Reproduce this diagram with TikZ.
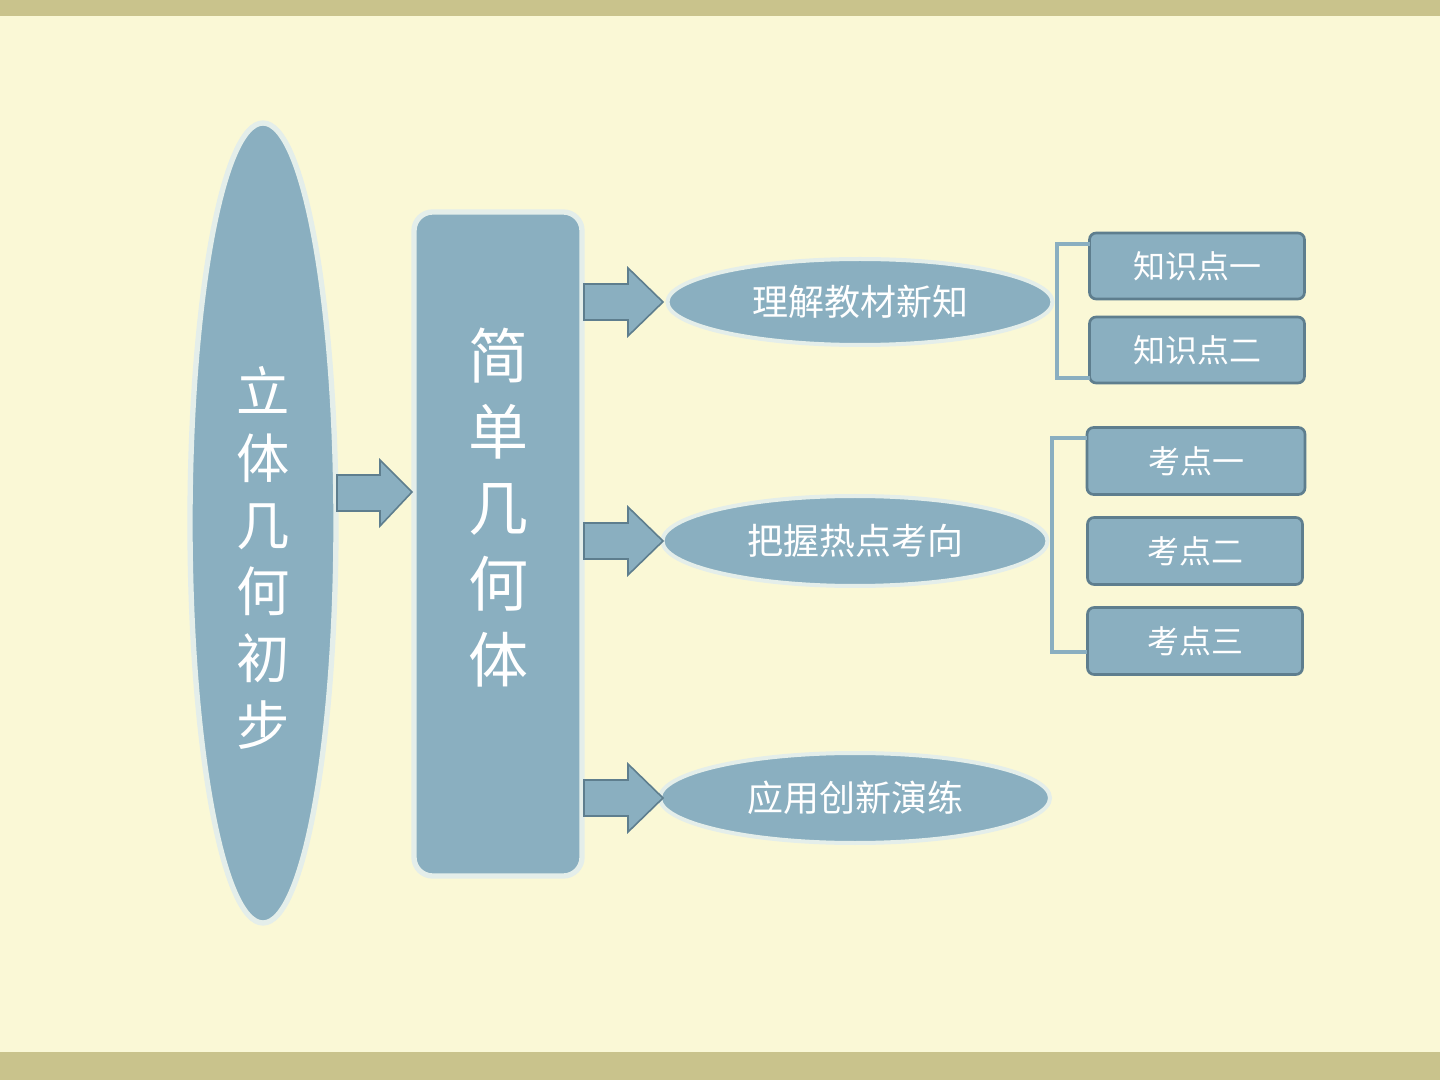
\documentclass[tikz,border=0pt]{standalone}
\usepackage{fontspec}
\setmainfont{Noto Sans CJK SC}
\usetikzlibrary{shapes.geometric}
\definecolor{bg}{HTML}{FAF8D6}
\definecolor{bar}{HTML}{C9C38C}
\definecolor{fillb}{HTML}{8AAFC0}
\definecolor{edge}{HTML}{5E7E8E}
\definecolor{glow}{HTML}{E4EEEA}
\begin{document}
\begin{tikzpicture}[x=0.75pt,y=-0.75pt,
  big/.style={ellipse,fill=fillb,draw=glow,line width=4pt,inner sep=0pt,text=white},
  mid/.style={ellipse,fill=fillb,draw=glow,line width=3pt,inner sep=0pt,text=white,font=\fontsize{27}{30}\selectfont},
  small/.style={rectangle,rounded corners=5pt,fill=fillb,draw=edge,line width=2pt,text=white,font=\fontsize{24}{28}\selectfont,inner sep=0pt},
  blk/.style={fill=fillb,draw=edge,line width=1.2pt},
  brk/.style={draw=fillb,line width=3pt}]
\fill[bg] (0,0) rectangle (1440,1080);
\fill[bar] (0,0) rectangle (1440,16);
\fill[bar] (0,1052) rectangle (1440,1080);
\node[big,minimum width=146*0.75pt,minimum height=800*0.75pt] (L) at (263,523) {};
\node[text=white,align=center,font=\fontsize{40}{50}\selectfont] (Lt) at (263,558) {立\\体\\几\\何\\初\\步};
\node[rectangle,rounded corners=14pt,fill=fillb,draw=glow,line width=4pt,minimum width=168*0.75pt,minimum height=664*0.75pt,inner sep=0pt] (M) at (498,544) {};
\node[text=white,align=center,font=\fontsize{45}{57}\selectfont] (Mt) at (498,508) {简\\单\\几\\何\\体};
\node[mid,minimum width=385*0.75pt,minimum height=86*0.75pt] (E1) at (860,302) {理解教材新知};
\node[mid,minimum width=385*0.75pt,minimum height=90*0.75pt] (E2) at (855,541) {把握热点考向};
\node[mid,minimum width=390*0.75pt,minimum height=90*0.75pt] (E3) at (855,798) {应用创新演练};
% arrows
\draw[blk] (337,475)--(380,475)--(380,460)--(412,492)--(380,526)--(380,511)--(337,511)--cycle;
\foreach \y in {302,541,798}{
\draw[blk] (584,\y-18)--(628,\y-18)--(628,\y-34)--(663,\y)--(628,\y+34)--(628,\y+18)--(584,\y+18)--cycle;}
\node[small,minimum width=215*0.75pt,minimum height=66*0.75pt] (k1) at (1197,266) {知识点一};
\node[small,minimum width=215*0.75pt,minimum height=66*0.75pt] (k2) at (1197,350) {知识点二};
\node[small,minimum width=218*0.75pt,minimum height=67*0.75pt] (p1) at (1196,461) {考点一};
\node[small,minimum width=215*0.75pt,minimum height=67*0.75pt] (p2) at (1195,551) {考点二};
\node[small,minimum width=215*0.75pt,minimum height=67*0.75pt] (p3) at (1195,641) {考点三};
\draw[brk] (1090,244)--(1057,244)--(1057,378)--(1090,378);
\draw[brk] (1087,438)--(1052,438)--(1052,652)--(1087,652);
\end{tikzpicture}
\end{document}
